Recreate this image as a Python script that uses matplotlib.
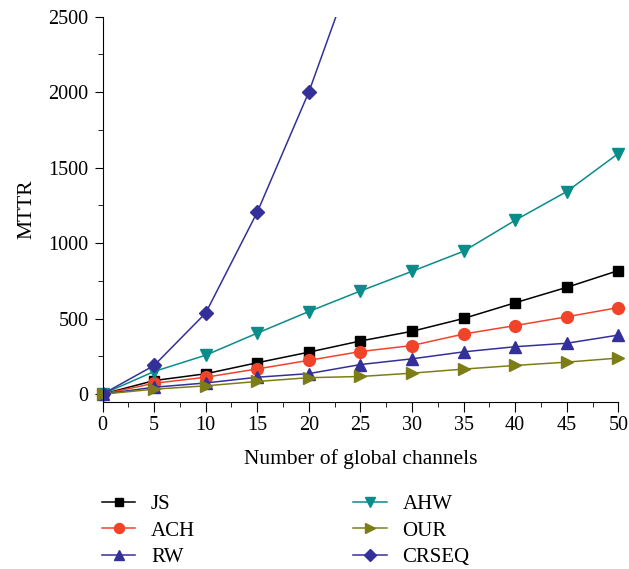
import matplotlib
matplotlib.use("Agg")
import matplotlib.pyplot as plt
from matplotlib.ticker import MultipleLocator

plt.rcParams['font.family'] = ['Liberation Serif', 'DejaVu Serif']

x = [0, 5, 10, 15, 20, 25, 30, 35, 40, 45, 50]
js = [0, 90, 135, 208, 278, 352, 416, 501, 605, 707, 818]
ach = [0, 72, 112, 167, 224, 282, 322, 398, 454, 512, 573]
rw = [0, 46, 74, 112, 136, 196, 234, 280, 314, 337, 391]
ahw = [0, 150, 258, 404, 547, 683, 813, 946, 1151, 1341, 1593]
our = [0, 33, 55, 84, 109, 117, 139, 166, 190, 212, 239]
x_crseq = [0, 5, 10, 15, 20, 25]
crseq = [0, 190, 537, 1205, 2000, 2950]

fig = plt.figure(figsize=(6.29, 5.69), dpi=100)
ax = fig.add_axes([0.163, 0.294, 0.820, 0.677])

ms = 7.5
ax.plot(x, js, color='black', marker='s', ms=ms, lw=1.1, label='JS', clip_on=False)
ax.plot(x, ach, color='#F0442A', marker='o', ms=ms + 1, lw=1.1, label='ACH', clip_on=False)
ax.plot(x, rw, color='#34309A', marker='^', ms=ms + 1.5, lw=1.1, label='RW', clip_on=False)
ax.plot(x, ahw, color='#0A8C8A', marker='v', ms=ms + 1.5, lw=1.1, label='AHW', clip_on=False)
ax.plot(x, our, color='#7D7D18', marker='>', ms=ms + 1.5, lw=1.1, label='OUR', clip_on=False)
ax.plot(x_crseq, crseq, color='#34309A', marker='D', ms=ms, lw=1.1, label='CRSEQ')

ax.set_xlim(0, 50)
ax.set_ylim(-50, 2500)
ax.xaxis.set_major_locator(MultipleLocator(5))
ax.xaxis.set_minor_locator(MultipleLocator(2.5))
ax.yaxis.set_major_locator(MultipleLocator(500))
ax.yaxis.set_minor_locator(MultipleLocator(250))
ax.tick_params(which='both', direction='out', labelsize=14.5)
ax.tick_params(axis='x', which='major', length=7.5, pad=3)
ax.tick_params(axis='y', which='major', length=6, pad=4)
ax.tick_params(which='minor', length=3.5)
for s in ['top', 'right']:
    ax.spines[s].set_visible(False)
ax.set_xlabel('Number of global channels', fontsize=15.5, labelpad=10)
ax.set_ylabel('MTTR', fontsize=15.5, labelpad=9)

handles, labels = ax.get_legend_handles_labels()
fig.legend(handles, labels, ncol=2, frameon=False, fontsize=15,
           loc='upper left', bbox_to_anchor=(0.149, 0.145),
           handlelength=1.6, columnspacing=7.6, labelspacing=0.32,
           handletextpad=0.75, borderaxespad=0, markerscale=0.85)

fig.savefig('out.png', dpi=100)
